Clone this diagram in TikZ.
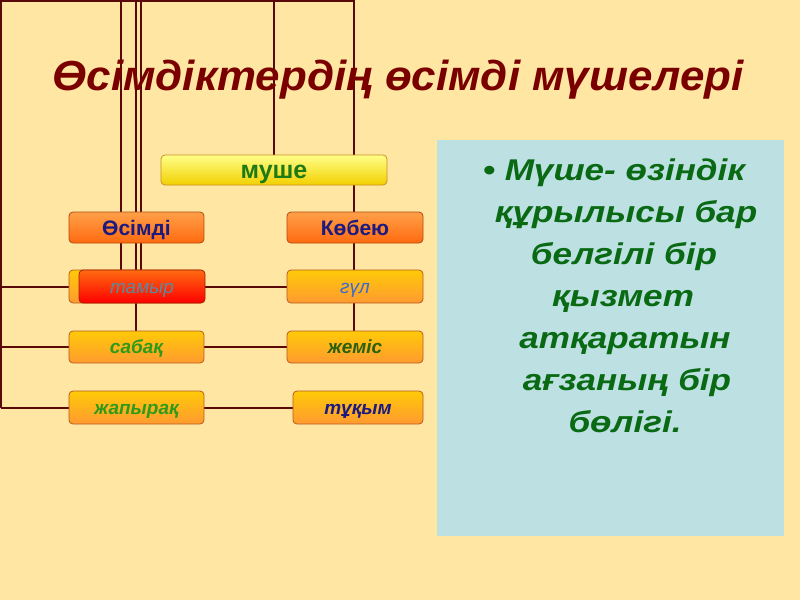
\documentclass[tikz,border=0pt]{standalone}
\usepackage{fontspec}
\setmainfont{Liberation Sans}
\newfontfamily\panelfont[FakeStretch=1.17]{Liberation Sans}
\newfontfamily\titlefont[FakeStretch=1.045]{Liberation Sans}
\usetikzlibrary{backgrounds}
\definecolor{bg}{HTML}{FFE6A2}
\definecolor{wire}{HTML}{5A0808}
\definecolor{titlec}{HTML}{7A0000}
\definecolor{panel}{HTML}{BDE1E3}
\definecolor{panelt}{HTML}{0A6A14}
\definecolor{ylwtop}{HTML}{FFFF88}
\definecolor{ylwbot}{HTML}{F2D000}
\definecolor{ylwdraw}{HTML}{C89020}
\definecolor{orgtop}{HTML}{FFA048}
\definecolor{orgbot}{HTML}{FF6A10}
\definecolor{orgdraw}{HTML}{B04A10}
\definecolor{ambtop}{HTML}{FFCA08}
\definecolor{ambbot}{HTML}{FF9A30}
\definecolor{ambdraw}{HTML}{B85A20}
\definecolor{redtop}{HTML}{FF6A10}
\definecolor{redbot}{HTML}{FF0000}
\definecolor{reddraw}{HTML}{A02000}
\definecolor{navy}{HTML}{1A1A80}
\definecolor{grn}{HTML}{1E7A14}
\definecolor{lgrn}{HTML}{2E9A1A}
\definecolor{dgrn}{HTML}{2A6010}
\definecolor{bluet}{HTML}{3A6AD0}
\definecolor{tealt}{HTML}{5A8AA0}
\tikzset{
  x=1pt, y=-1pt,
  wireline/.style={draw=wire, line width=2pt},
  basebox/.style={rounded corners=4pt, line width=0.8pt, inner sep=0pt, minimum height=32pt, text height=16pt, text depth=3pt},
  ylwbox/.style={basebox, draw=ylwdraw, top color=ylwtop, bottom color=ylwbot},
  orgbox/.style={basebox, draw=orgdraw, top color=orgtop, bottom color=orgbot},
  ambbox/.style={basebox, draw=ambdraw, top color=ambtop, bottom color=ambbot},
  redbox/.style={basebox, draw=reddraw, top color=redtop, bottom color=redbot},
  lbl/.style={font=\fontsize{19}{22}\selectfont\bfseries\itshape},
  ptext/.style={anchor=base, text=panelt, font=\panelfont\fontsize{30}{34}\selectfont\bfseries\itshape},
}
\begin{document}
\begin{tikzpicture}
\useasboundingbox (0,0) rectangle (800,600);

% title
\node[anchor=base, text=titlec, font=\titlefont\fontsize{42}{48}\selectfont\bfseries\itshape] (title) at (398,90) {Өсімдіктердің өсімді мүшелері};

% boxes
\node[ylwbox, minimum width=226pt, minimum height=30pt, text height=18pt, text depth=0.4pt, text=grn, font=\fontsize{25}{28}\selectfont\bfseries] (mushe) at (274,170) {муше};
\node[orgbox, minimum width=135pt, minimum height=31pt, text height=15pt, text depth=0pt, text=navy, font=\fontsize{21}{24}\selectfont\bfseries] (osimdi) at (136.5,227.5) {Өсімді};
\node[orgbox, minimum width=136pt, minimum height=31pt, text height=15pt, text depth=0pt, text=navy, font=\fontsize{21}{24}\selectfont\bfseries] (kobeyu) at (355,227.5) {Көбею};
\node[ambbox, minimum width=135pt, minimum height=33pt] (tamyrback) at (136.5,286.5) {};
\node[redbox, minimum width=126pt, minimum height=33pt, text=tealt, font=\fontsize{19}{22}\selectfont\itshape] (tamyr) at (142,286.5) {тамыр};
\node[ambbox, minimum width=136pt, minimum height=33pt, text=bluet, font=\fontsize{19}{22}\selectfont\itshape] (gul) at (355,286.5) {гүл};
\node[ambbox, minimum width=135pt, minimum height=32pt, text=lgrn, lbl] (sabak) at (136.5,347) {сабақ};
\node[ambbox, minimum width=136pt, minimum height=32pt, text=dgrn, lbl] (zhemis) at (355,347) {жеміс};
\node[ambbox, minimum width=135pt, minimum height=33pt, text=lgrn, lbl] (zhapyrak) at (136.5,407.5) {жапырақ};
\node[ambbox, minimum width=130pt, minimum height=33pt, text=navy, lbl] (tukym) at (358,407.5) {тұқым};

% connectors
\coordinate (tl) at (1,1);
\coordinate (tr) at (354,1);
\coordinate (bl) at (1,407.5);
\coordinate (ta) at (121,1);
\coordinate (tb) at (136,1);
\coordinate (tc) at (141,1);
\coordinate (td) at (274,1);
\coordinate (la) at (1,286.5);
\coordinate (lb) at (1,347);
\begin{scope}[on background layer]
\fill[bg] (0,0) rectangle (800,600);
\draw[wireline] (bl) -- (tl) -- (tr) -- (tr |- zhemis.north);
\draw[wireline] (ta) -- (ta |- tamyrback.north);
\draw[wireline] (tb) -- (tb |- tamyrback.north);
\draw[wireline] (tc) -- (tc |- tamyrback.north);
\draw[wireline] (td) -- (td |- mushe.north);
\draw[wireline] (tb |- tamyr.south) -- (tb |- sabak.north);
\draw[wireline] (la) -- (tamyrback.west);
\draw[wireline] (tamyr.east) -- (gul.west);
\draw[wireline] (lb) -- (sabak.west);
\draw[wireline] (sabak.east) -- (zhemis.west);
\draw[wireline] (bl) -- (zhapyrak.west);
\draw[wireline] (zhapyrak.east) -- (tukym.west);
\end{scope}

% panel
\fill[panel] (437,140) rectangle (784,536);
\node[ptext] (p1) at (614,180) {• Мүше- өзіндік};
\node[ptext] (p2) at (626,222) {құрылысы бар};
\node[ptext] (p3) at (624,264) {белгілі бір};
\node[ptext] (p4) at (623,306) {қызмет};
\node[ptext] (p5) at (625,348) {атқаратын};
\node[ptext] (p6) at (627,390) {ағзаның бір};
\node[ptext] (p7) at (625,432) {бөлігі.};
\end{tikzpicture}
\end{document}
